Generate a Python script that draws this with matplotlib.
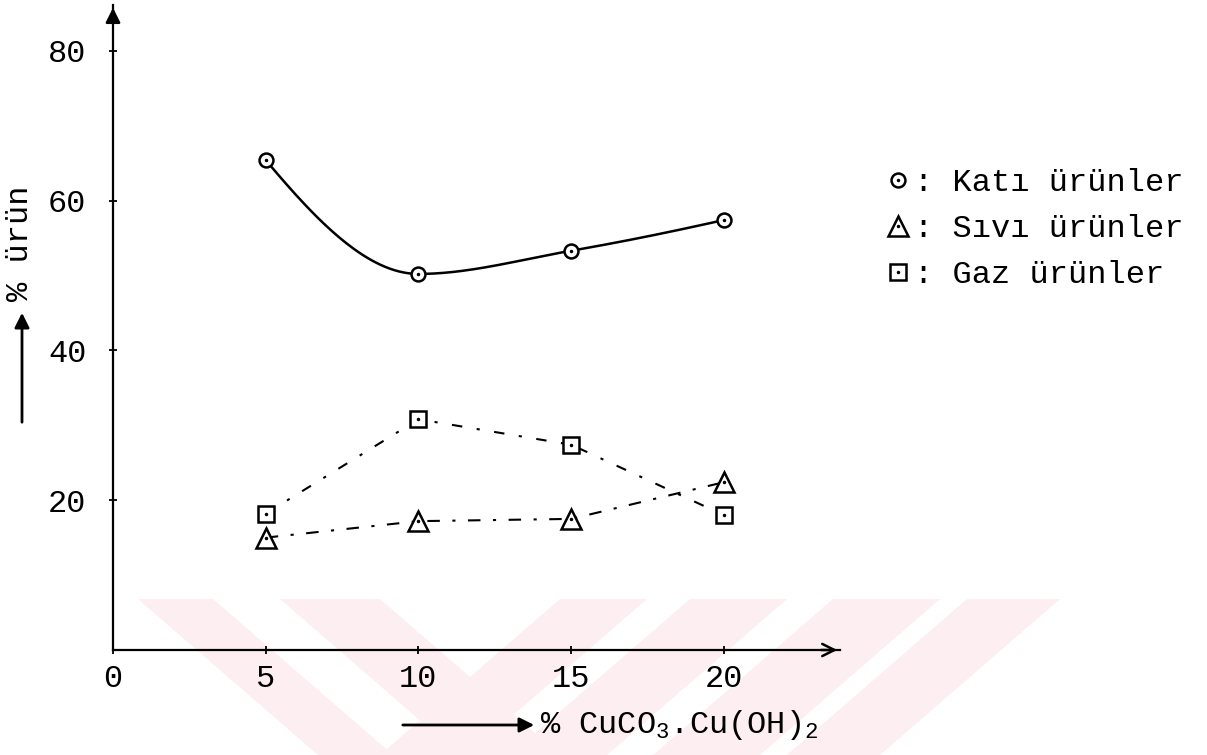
import numpy as np
import matplotlib
matplotlib.use("Agg")
import matplotlib.pyplot as plt
from matplotlib.legend_handler import HandlerTuple
from matplotlib.patches import Polygon, FancyArrowPatch

# % CuCO3.Cu(OH)2 added
x_pct = [5, 10, 15, 20]
kati = [65.4, 50.2, 53.3, 57.4]   # solid products
sivi = [15.0, 17.2, 17.5, 22.4]   # liquid products
gaz = [18.2, 30.8, 27.4, 18.0]    # gas products

x_ticks = [0, 5, 10, 15, 20]
y_ticks = [20, 40, 60, 80]
labels = [": Katı ürünler", ": Sıvı ürünler", ": Gaz ürünler"]

FONT = "Liberation Mono"
plt.rcParams["font.family"] = [FONT, "DejaVu Sans Mono"]
plt.rcParams["mathtext.fontset"] = "custom"
plt.rcParams["mathtext.rm"] = FONT
plt.rcParams["mathtext.it"] = FONT
plt.rcParams["mathtext.default"] = "rm"


def pchip(x, y, xs):
    """monotone cubic through the points, stands in for the hand-drawn smooth curve"""
    x = np.asarray(x, float); y = np.asarray(y, float)
    h = np.diff(x); d = np.diff(y) / h
    m = np.zeros_like(y)
    for k in range(1, len(x) - 1):
        if d[k - 1] * d[k] > 0:
            w1, w2 = 2 * h[k] + h[k - 1], h[k] + 2 * h[k - 1]
            m[k] = (w1 + w2) / (w1 / d[k - 1] + w2 / d[k])
    m[0] = ((2 * h[0] + h[1]) * d[0] - h[0] * d[1]) / (h[0] + h[1])
    m[-1] = ((2 * h[-1] + h[-2]) * d[-1] - h[-1] * d[-2]) / (h[-1] + h[-2])
    i = np.clip(np.searchsorted(x, xs) - 1, 0, len(h) - 1)
    t = (xs - x[i]) / h[i]
    return ((2 * t**3 - 3 * t**2 + 1) * y[i] + (t**3 - 2 * t**2 + t) * h[i] * m[i]
            + (-2 * t**3 + 3 * t**2) * y[i + 1] + (t**3 - t**2) * h[i] * m[i + 1])


W, H = 1207, 755
fig = plt.figure(figsize=(W / 100, H / 100), dpi=100)

# faint thesis watermark along the bottom edge
for a, b, d in [(138, 213, 180), (280, 380, 180), (560, 647, -180), (690, 787, -180),
                (833, 940, -180), (967, 1060, -180)]:
    px = np.array([a, b, b + d, a + d]) / W
    py = 1 - np.array([599, 599, 755, 755]) / H
    fig.patches.append(Polygon(np.c_[px, py], closed=True, transform=fig.transFigure,
                               fc="#fdeef1", ec="none", zorder=-5))

ax = fig.add_axes([113 / W, 1 - 650 / H, (840 - 113) / W, (650 - 5) / H])
ax.patch.set_alpha(0)
ax.set_xlim(0, 23.8)
ax.set_ylim(0, 86.1)
for s in ("top", "right"):
    ax.spines[s].set_visible(False)
for s in ("left", "bottom"):
    ax.spines[s].set_linewidth(1.6)
ax.annotate("", xy=(1, 0), xytext=(0.97, 0), xycoords="axes fraction",
            arrowprops=dict(arrowstyle="->", lw=1.8, mutation_scale=22))
ax.annotate("", xy=(0, 1.0), xytext=(0, 0.97), xycoords="axes fraction",
            arrowprops=dict(arrowstyle="-|>", lw=1.8, mutation_scale=22, fc="k"))

ax.set_xticks(x_ticks)
ax.set_yticks(y_ticks)
ax.tick_params(direction="inout", length=6, width=1.3, labelsize=23)
ax.tick_params(axis="x", pad=7)
ax.tick_params(axis="y", pad=16)

xs = np.linspace(x_pct[0], x_pct[-1], 200)
ax.plot(xs, pchip(x_pct, kati, xs), color="k", lw=1.8)
ax.plot(x_pct, gaz, color="k", lw=1.5, ls=(0, (5, 7, 1.5, 7)))
ax.plot(x_pct, sivi, color="k", lw=1.5, ls=(0, (6, 6, 1.5, 6)))

mk = dict(ls="none", mfc="white", mec="k", mew=1.8)
dot = dict(ls="none", marker=".", color="k", ms=3)
h1 = ax.plot(x_pct, kati, marker="o", ms=10, **mk)[0]
h2 = ax.plot(x_pct, sivi, marker="^", ms=15, **mk)[0]
h3 = ax.plot(x_pct, gaz, marker="s", ms=12, **mk)[0]
d1 = ax.plot(x_pct, kati, **dot)[0]
d2 = ax.plot(x_pct, sivi, **dot)[0]
d3 = ax.plot(x_pct, gaz, **dot)[0]

ax.legend([(h1, d1), (h2, d2), (h3, d3)], labels,
          handler_map={tuple: HandlerTuple(ndivide=1)},
          loc="upper left", bbox_to_anchor=(885 / W, 1 - 168 / H), bbox_transform=fig.transFigure,
          frameon=False, fontsize=23, handlelength=0.8, handletextpad=0.1, labelspacing=0.5,
          borderpad=0, borderaxespad=0)

fig.text(20 / W, 1 - 243 / H, "% ürün", rotation=90, ha="center", va="center", fontsize=23)
fig.add_artist(FancyArrowPatch((22 / W, 1 - 425 / H), (22 / W, 1 - 310 / H),
               transform=fig.transFigure, arrowstyle="-|>", mutation_scale=22, lw=2, color="k"))
fig.add_artist(FancyArrowPatch((400 / W, 1 - 725 / H), (537 / W, 1 - 725 / H),
               transform=fig.transFigure, arrowstyle="-|>", mutation_scale=22, lw=2, color="k"))
fig.text(540 / W, 1 - 725 / H, "% CuCO$_3$.Cu(OH)$_2$", ha="left", va="center", fontsize=23)

fig.savefig("out.png", dpi=100)
